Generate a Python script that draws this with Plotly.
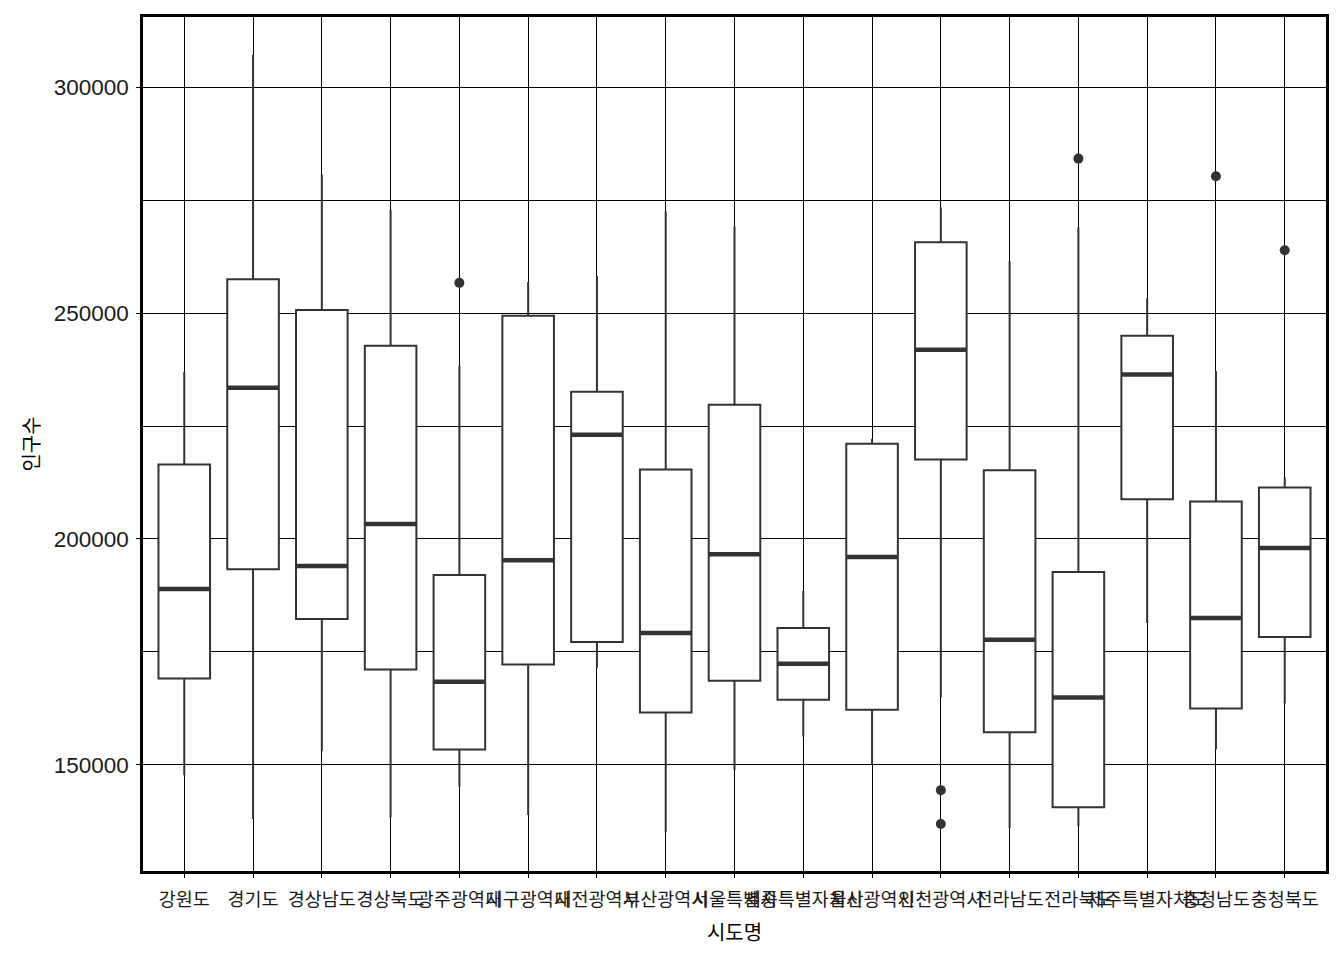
import plotly.graph_objects as go

# 시도별 인구수 상자그림 (값은 그림에서 읽음)
sido = ['강원도', '경기도', '경상남도', '경상북도', '광주광역시', '대구광역시', '대전광역시',
        '부산광역시', '서울특별시', '세종특별자치시', '울산광역시', '인천광역시', '전라남도',
        '전라북도', '제주특별자치도', '충청남도', '충청북도']

upper = [237000, 307200, 280700, 272800, 238300, 256900, 258200, 272500, 269200,
         188500, 222200, 273400, 261500, 269000, 253300, 237200, 213600]
q3 = [216500, 257500, 250700, 242800, 192000, 249400, 232600, 215400, 229700,
      180300, 221100, 265700, 215200, 192700, 245000, 208300, 211400]
median = [188900, 233500, 194000, 203300, 168400, 195300, 223100, 179200, 196600,
          172400, 196000, 241900, 177700, 164900, 236400, 182500, 198000]
q1 = [169100, 193300, 182300, 171100, 153400, 172200, 177200, 161600, 168600,
      164400, 162200, 217600, 157200, 140600, 208800, 162500, 178300]
lower = [147700, 138000, 153000, 138400, 145200, 138900, 171500, 135100, 148800,
         156300, 150100, 164900, 136000, 136400, 181400, 153400, 163600]

# 이상치
out_sido = ['광주광역시', '인천광역시', '인천광역시', '전라북도', '충청남도', '충청북도']
out_val = [256700, 144400, 136900, 284200, 280300, 263900]

pos = list(range(len(sido)))
half = 0.375

fig = go.Figure()
fig.add_trace(go.Box(x=pos, q1=q1, median=median, q3=q3,
                     lowerfence=lower, upperfence=upper,
                     width=0.75, whiskerwidth=0,
                     fillcolor='white',
                     line=dict(color='#333333', width=2),
                     boxpoints=False, showlegend=False, hoverinfo='skip'))

# 굵은 중앙값 선
mx, my = [], []
for i, m in zip(pos, median):
    mx += [i - half, i + half, None]
    my += [m, m, None]
fig.add_trace(go.Scatter(x=mx, y=my, mode='lines',
                         line=dict(color='#333333', width=4.5),
                         showlegend=False, hoverinfo='skip'))

fig.add_trace(go.Scatter(x=[sido.index(s) for s in out_sido], y=out_val,
                         mode='markers',
                         marker=dict(color='#333333', size=10),
                         showlegend=False, hoverinfo='skip'))

fig.update_layout(
    width=1344, height=960,
    margin=dict(l=135, r=26, t=6, b=97),
    plot_bgcolor='white', paper_bgcolor='white',
    font=dict(family='Noto Sans CJK KR, Liberation Sans, Arial', color='black', size=16),
)
fig.update_xaxes(
    range=[-0.6, 16.6], tickmode='array', tickvals=pos, ticktext=sido, tickangle=0,
    showgrid=True, gridcolor='black', gridwidth=1.2, zeroline=False,
    showline=True, linecolor='black', linewidth=2.5, mirror=True,
    ticks='outside', ticklen=4, tickcolor='black', tickwidth=1.2,
    ticklabelstandoff=6,
    tickfont=dict(size=18.5, color='#1a1a1a'),
    title=dict(text='시도명', font=dict(size=20), standoff=17),
)
fig.update_yaxes(
    range=[126500, 315550], tick0=0, dtick=50000, tickformat='d',
    showgrid=True, gridcolor='black', gridwidth=1.2, zeroline=False,
    minor=dict(dtick=25000, showgrid=True, gridcolor='black', gridwidth=1),
    showline=True, linecolor='black', linewidth=2.5, mirror=True,
    ticks='outside', ticklen=4, tickcolor='black', tickwidth=1.2,
    ticklabelstandoff=3,
    tickfont=dict(family='Liberation Sans, Arial', size=22.5, color='#1a1a1a'),
    title=dict(text='인구수', font=dict(size=20), standoff=9),
)

fig.write_html("out.html")
